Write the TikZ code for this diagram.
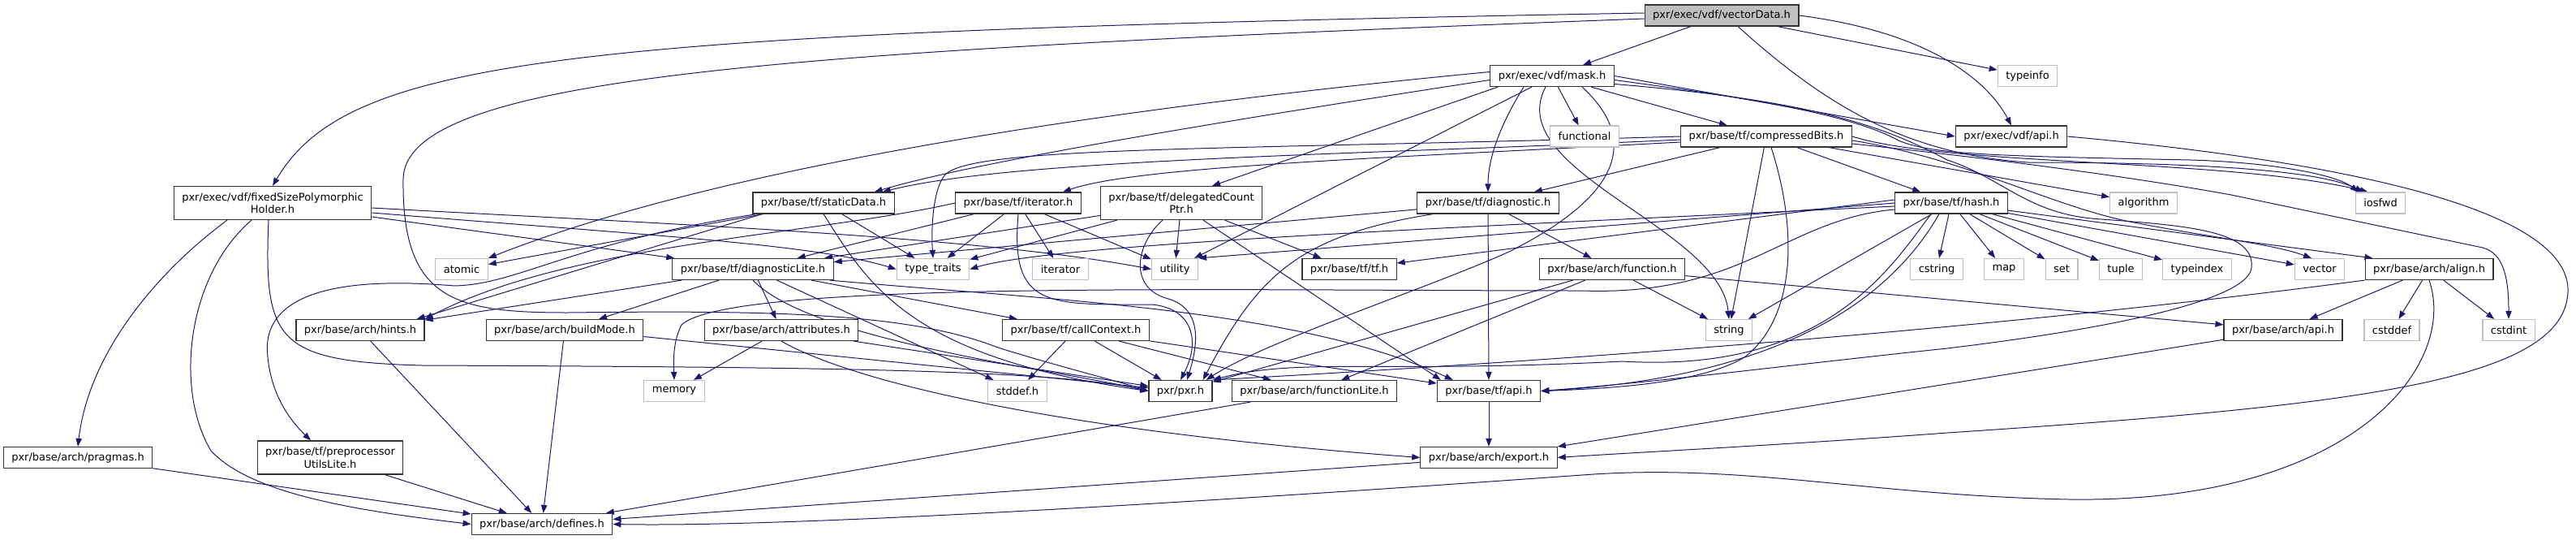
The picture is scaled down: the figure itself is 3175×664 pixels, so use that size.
\documentclass[tikz,border=0pt]{standalone}
\usepackage{fontspec}
\setmainfont{DejaVu Sans}
\usetikzlibrary{arrows.meta, calc, backgrounds}
\definecolor{edgeblue}{RGB}{25,25,112}
\definecolor{rootgray}{RGB}{191,191,191}

\begin{document}
\begin{tikzpicture}[
        x=0.75pt, y=-0.75pt,
        font=\fontsize{9.75}{11.6}\selectfont,
        file/.style={
            draw=black!80,
            line width=0.9pt,
            fill=white,
            align=center,
            inner xsep=7.5pt,
            inner ysep=1pt,
            minimum height=19.5pt
        },
        twoline/.style={file, minimum height=30.75pt},
        syshdr/.style={file, draw=rootgray},
        roothdr/.style={file, fill=rootgray},
        inc/.style={
            draw=edgeblue,
            line width=0.75pt,
            -{Triangle[length=7.5pt,width=5.5pt]}
        }
    ]
    \useasboundingbox (0,0) rectangle (3175,664);

    % row 1 to 3
    \node[roothdr] (vectordata) at (2122,19) {pxr/exec/vdf/vectorData.h};
    \node[file] (mask) at (1913,93.5) {pxr/exec/vdf/mask.h};
    \node[syshdr] (typeinfo) at (2499,93.5) {typeinfo};
    \node[syshdr] (functional) at (1953,168) {functional};
    \node[file] (compressed) at (2177,168) {pxr/base/tf/compressedBits.h};
    \node[file] (vdfapi) at (2479,168) {pxr/exec/vdf/api.h};

    % row 4
    \node[twoline] (fixedsize) at (336,250) {pxr/exec/vdf/fixedSizePolymorphic\\Holder.h};
    \node[file] (staticdata) at (1015,250) {pxr/base/tf/staticData.h};
    \node[file] (tfiterator) at (1255,250) {pxr/base/tf/iterator.h};
    \node[twoline] (delegated) at (1456,250) {pxr/base/tf/delegatedCount\\Ptr.h};
    \node[file] (diagnostic) at (1834,250) {pxr/base/tf/diagnostic.h};
    \node[file] (hash) at (2405,250) {pxr/base/tf/hash.h};
    \node[syshdr] (algorithm) at (2642,250) {algorithm};
    \node[syshdr] (iosfwd) at (2934,250) {iosfwd};

    % row 5
    \node[syshdr] (atomic) at (569,331.5) {atomic};
    \node[file] (diaglite) at (928,331.5) {pxr/base/tf/diagnosticLite.h};
    \node[syshdr] (typetraits) at (1150,331.5) {type\_traits};
    \node[syshdr] (iterator) at (1307,331.5) {iterator};
    \node[syshdr] (utility) at (1448,331.5) {utility};
    \node[file] (tftf) at (1663,331.5) {pxr/base/tf/tf.h};
    \node[file] (function) at (1987,331.5) {pxr/base/arch/function.h};
    \node[syshdr] (cstring) at (2387,331.5) {cstring};
    \node[syshdr] (map) at (2470,331.5) {map};
    \node[syshdr] (set) at (2541,331.5) {set};
    \node[syshdr] (tuple) at (2614,331.5) {tuple};
    \node[syshdr] (typeindex) at (2708,331.5) {typeindex};
    \node[syshdr] (vector) at (2859,331.5) {vector};
    \node[file] (align) at (2994,331.5) {pxr/base/arch/align.h};

    % row 6
    \node[file] (hints) at (444,406.5) {pxr/base/arch/hints.h};
    \node[file] (buildmode) at (696,406.5) {pxr/base/arch/buildMode.h};
    \node[file] (attributes) at (963,406.5) {pxr/base/arch/attributes.h};
    \node[file] (callcontext) at (1326,406.5) {pxr/base/tf/callContext.h};
    \node[syshdr] (string) at (2131,406.5) {string};
    \node[file] (archapi) at (2814,406.5) {pxr/base/arch/api.h};
    \node[syshdr] (cstddef) at (2948,406.5) {cstddef};
    \node[syshdr] (cstdint) at (3092,406.5) {cstdint};

    % row 7 to 9
    \node[syshdr] (memory) at (831,481.5) {memory};
    \node[syshdr] (stddef) at (1254,481.5) {stddef.h};
    \node[file] (pxr) at (1455,481.5) {pxr/pxr.h};
    \node[file] (functionlite) at (1620,481.5) {pxr/base/arch/functionLite.h};
    \node[file] (tfapi) at (1835,481.5) {pxr/base/tf/api.h};
    \node[file] (pragmas) at (96,563.5) {pxr/base/arch/pragmas.h};
    \node[twoline] (preproc) at (407,563.5) {pxr/base/tf/preprocessor\\UtilsLite.h};
    \node[file] (export) at (1835,563.5) {pxr/base/arch/export.h};
    \node[file] (defines) at (668,645.5) {pxr/base/arch/defines.h};

    \begin{scope}[on background layer]
    % vectorData.h
    \draw[inc] (vectordata) -- (mask);
    \draw[inc] ($(vectordata.west)+(0,-3)$) .. controls (700,40) and (430,70) .. (fixedsize.north);
    \draw[inc] ($(vectordata.west)+(0,4)$) .. controls (1000,62) and (500,90) .. (497,220)
        .. controls (495,370) and (560,385) .. (700,385)
        .. controls (950,382) and (1120,385) .. (1230,428)
        .. controls (1300,450) and (1380,470) .. (pxr.west);
    \draw[inc] (vectordata) -- (typeinfo);
    \draw[inc] (vectordata.east) .. controls (2380,40) and (2450,100) .. (vdfapi.north);
    \draw[inc] ($(vectordata.south)+(20,0)$) .. controls (2250,130) and (2350,190) .. (2500,200)
        .. controls (2650,200) and (2850,205) .. ($(iosfwd.north west)+(10,0)$);

    % mask.h
    \draw[inc] ($(mask.west)+(0,-5)$) .. controls (1400,130) and (900,200) .. (atomic.north east);
    \draw[inc] ($(mask.west)+(0,5)$) .. controls (1500,150) and (1200,200) .. ($(staticdata.north east)+(-25,0)$);
    \draw[inc] ($(mask.south west)+(10,0)$) -- ($(delegated.north)+(38,0)$);
    \draw[inc] ($(mask.south)+(-25,0)$) -- ($(utility.north east)+(-5,0)$);
    \draw[inc] ($(mask.south)+(-35,0)$) .. controls (1845,160) and (1834,200) .. (diagnostic.north);
    \draw[inc] (mask) -- (functional);
    \draw[inc] ($(mask.south)+(-8,0)$) .. controls (1850,210) and (2120,280) .. (string.north);
    \draw[inc] (mask) -- (compressed);
    \draw[inc] ($(mask.south)+(37,0)$) .. controls (2040,190) and (1960,260) .. (1860,310)
        .. controls (1760,355) and (1560,420) .. ($(pxr.north east)+(-8,0)$);
    \draw[inc] (mask.east) -- (vdfapi.west);
    \draw[inc] ($(mask.east)+(0,5)$) .. controls (2150,120) and (2280,140) .. (2340,173)
        .. controls (2380,190) and (2450,192) .. (2700,197)
        .. controls (2800,200) and (2880,215) .. ($(iosfwd.north west)+(4,0)$);
    \draw[inc] ($(mask.east)+(0,10)$) .. controls (2250,125) and (2330,160) .. (2400,197)
        .. controls (2470,220) and (2500,265) .. (2590,270)
        .. controls (2700,278) and (2780,285) .. (2775,330)
        .. controls (2770,370) and (2600,405) .. (2400,429)
        .. controls (2200,450) and (2050,470) .. (tfapi.east);

    % compressedBits.h
    \draw[inc] ($(compressed.west)+(0,4)$) .. controls (1700,190) and (1250,195) .. ($(staticdata.north east)+(-15,0)$);
    \draw[inc] ($(compressed.west)+(0,7)$) .. controls (1700,195) and (1400,205) .. ($(tfiterator.north)+(55,0)$);
    \draw[inc] (compressed.west) .. controls (1500,185) and (1200,180) .. (1165,215)
        .. controls (1148,235) and (1148,290) .. (typetraits.north);
    \draw[inc] (compressed) -- (diagnostic);
    \draw[inc] (compressed) -- (hash);
    \draw[inc] (compressed) -- (string);
    \draw[inc] ($(compressed.south)+(6,0)$) .. controls (2215,280) and (2215,390) .. (2150,440)
        .. controls (2100,470) and (2000,478) .. (tfapi.east);
    \draw[inc] (compressed) -- (algorithm);
    \draw[inc] (compressed.east) .. controls (2400,205) and (2750,195) .. ($(iosfwd.north west)+(16,0)$);
    \draw[inc] ($(compressed.east)+(0,5)$) .. controls (2420,195) and (2520,250) .. (2620,272)
        .. controls (2720,292) and (2800,300) .. ($(vector.north)+(-10,0)$);
    \draw[inc] ($(compressed.east)+(0,9)$) .. controls (2500,200) and (2650,222) .. (2750,240)
        -- (3060,305) .. controls (3085,312) and (3092,340) .. (cstdint.north);

    % fixedSizePolymorphicHolder.h
    \draw[inc] ($(fixedsize.south)+(-56,0)$) .. controls (200,330) and (110,430) .. (pragmas.north);
    \draw[inc] ($(fixedsize.south)+(-26,0)$) .. controls (230,340) and (215,480) .. (260,555)
        .. controls (310,610) and (450,630) .. (defines.west);
    \draw[inc] ($(fixedsize.south)+(-5,0)$) .. controls (325,420) and (340,445) .. (520,450)
        .. controls (1000,452) and (1300,455) .. (pxr.west);
    \draw[inc] ($(fixedsize.east)+(0,6)$) .. controls (800,275) and (1200,290) .. (utility.west);
    \draw[inc] ($(fixedsize.east)+(0,12)$) .. controls (800,290) and (1000,300) .. (typetraits.west);
    \draw[inc] ($(fixedsize.east)+(0,17)$) -- ($(diaglite.north west)+(3,0)$);

    % staticData.h
    \draw[inc] (staticdata) -- (atomic);
    \draw[inc] ($(staticdata.south west)+(5,0)$) .. controls (700,300) and (640,350) .. (560,352)
        .. controls (420,340) and (320,360) .. (330,440)
        .. controls (335,490) and (360,520) .. ($(preproc.north)+(-24,0)$);
    \draw[inc] ($(staticdata.south west)+(12,0)$) -- ($(hints.north east)+(-10,0)$);
    \draw[inc] (staticdata) -- (typetraits);
    \draw[inc] (staticdata.south) .. controls (1070,350) and (1120,440) .. (pxr.west);

    % iterator.h
    \draw[inc] (tfiterator.west) .. controls (1000,290) and (700,300) .. (hints.north east);
    \draw[inc] (tfiterator) -- (diaglite);
    \draw[inc] (tfiterator) -- (typetraits);
    \draw[inc] (tfiterator) -- (iterator);
    \draw[inc] (tfiterator) -- (utility);
    \draw[inc] (tfiterator.south) .. controls (1245,380) and (1290,375) .. (1420,375)
        .. controls (1470,380) and (1480,420) .. (pxr.north);

    % delegatedCountPtr.h
    \draw[inc] (delegated) -- (diaglite);
    \draw[inc] (delegated) -- (typetraits);
    \draw[inc] (delegated) -- (utility);
    \draw[inc] ($(delegated.south)+(-23,0)$) .. controls (1400,300) and (1390,355) .. (1440,368)
        .. controls (1480,380) and (1478,420) .. ($(pxr.north)+(8,0)$);
    \draw[inc] (delegated) -- (tftf);
    \draw[inc] ($(delegated.south)+(27,0)$) -- ($(tfapi.north west)+(5,0)$);

    % diagnostic.h
    \draw[inc] (diagnostic) -- (diaglite);
    \draw[inc] ($(diagnostic.south west)+(20,0)$) .. controls (1600,290) and (1550,340) .. ($(pxr.north east)+(-12,0)$);
    \draw[inc] (diagnostic) -- (function);
    \draw[inc] (diagnostic) -- (tfapi);

    % hash.h
    \draw[inc] ($(hash.west)+(0,-4)$) -- (tftf);
    \draw[inc] (hash.west) -- (utility.north east);
    \draw[inc] ($(hash.west)+(0,4)$) .. controls (1800,280) and (1300,300) .. (typetraits.east);
    \draw[inc] ($(hash.west)+(0,8)$) .. controls (2200,270) and (2150,365) .. (1950,358)
        .. controls (1500,358) and (900,345) .. (840,400)
        .. controls (830,420) and (830,440) .. (memory.north);
    \draw[inc] (hash) -- (string);
    \draw[inc] ($(hash.south)+(-25,0)$) .. controls (2330,330) and (2250,460) .. (2000,445)
        .. controls (1700,460) and (1600,440) .. (pxr.north east);
    \draw[inc] ($(hash.south)+(-15,0)$) .. controls (2300,420) and (2100,470) .. (tfapi.east);
    \draw[inc] (hash) -- (cstring);
    \draw[inc] (hash) -- (map);
    \draw[inc] (hash) -- (set);
    \draw[inc] (hash) -- (tuple);
    \draw[inc] (hash) -- (typeindex);
    \draw[inc] (hash) -- (vector);
    \draw[inc] (hash) -- ($(align.north west)+(10,0)$);

    % function.h
    \draw[inc] (function) -- (functionlite);
    \draw[inc] (function) -- (pxr);
    \draw[inc] (function) -- (string);
    \draw[inc] (function) -- (archapi);

    % align.h
    \draw[inc] (align) -- (archapi);
    \draw[inc] (align) -- (cstddef);
    \draw[inc] (align) -- (cstdint);
    \draw[inc] (align.south west) .. controls (2500,400) and (2000,440) .. (pxr.north east);
    \draw[inc] (align.south) .. controls (3030,450) and (2900,620) .. (2550,615)
        .. controls (2300,610) and (2150,570) .. (1950,585)
        .. controls (1600,610) and (1000,650) .. (defines.east);

    % diagnosticLite.h
    \draw[inc] (diaglite) -- (hints);
    \draw[inc] (diaglite) -- (buildmode);
    \draw[inc] (diaglite) -- (attributes);
    \draw[inc] (diaglite) -- (callcontext);
    \draw[inc] (diaglite) -- (stddef);
    \draw[inc] (diaglite.south) .. controls (1000,420) and (1300,455) .. (pxr.west);
    \draw[inc] ($(diaglite.south east)+(-5,0)$) .. controls (1300,370) and (1600,380) .. ($(tfapi.north west)+(20,0)$);

    % callContext.h
    \draw[inc] (callcontext) -- (stddef);
    \draw[inc] (callcontext) -- (pxr);
    \draw[inc] (callcontext) -- (functionlite);
    \draw[inc] (callcontext) -- (tfapi);

    % attributes.h, buildMode.h
    \draw[inc] (attributes) -- (memory);
    \draw[inc] (attributes) -- (pxr);
    \draw[inc] (attributes.south) .. controls (1050,470) and (1300,530) .. (export.west);
    \draw[inc] (buildmode) -- (defines);
    \draw[inc] ($(buildmode.east)+(0,8)$) -- ($(pxr.west)+(0,-4)$);

    % the rest
    \draw[inc] (hints) -- (defines);
    \draw[inc] (pragmas) -- (defines);
    \draw[inc] (preproc) -- (defines);
    \draw[inc] (functionlite) -- (defines);
    \draw[inc] (tfapi) -- (export);
    \draw[inc] (archapi) -- (export);
    \draw[inc] (export) -- (defines);
    \draw[inc] (vdfapi.east) .. controls (2900,200) and (3170,260) .. (3165,360)
        .. controls (3160,470) and (2900,500) .. (2400,533)
        .. controls (2200,548) and (2000,558) .. (export.east);
    \end{scope}

    \end{tikzpicture}
\end{document}
